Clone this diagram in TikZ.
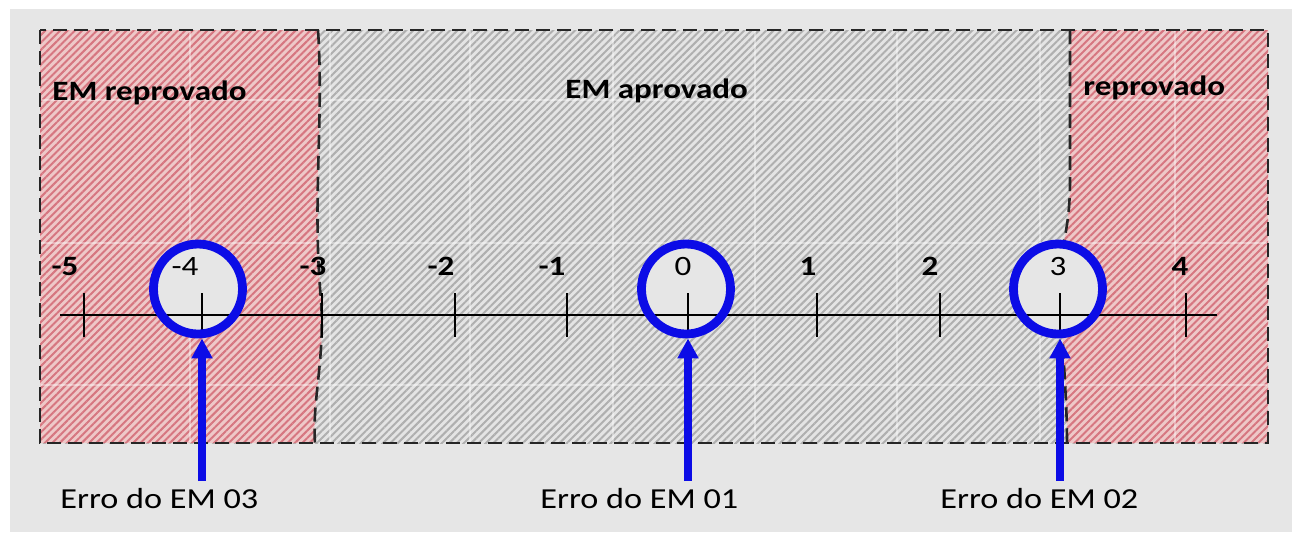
\documentclass[tikz,border=0pt]{standalone}
\usepackage{fontspec}
\setmainfont{Carlito}[FakeStretch=1.18]
\usepackage{tikz}
\usetikzlibrary{calc,positioning,arrows.meta,shapes.geometric,patterns.meta}
\definecolor{fundo}{RGB}{230,230,230}
\definecolor{reprov}{RGB}{238,200,200}
\definecolor{reprovline}{RGB}{214,118,128}
\definecolor{aprov}{RGB}{228,228,228}
\definecolor{aprovline}{RGB}{175,175,175}
\definecolor{marca}{RGB}{12,12,230}
\tikzset{
  zona/.style={draw=black!85, line width=1.3pt, dash pattern=on 7pt off 3.5pt},
  hachverm/.style={pattern={Lines[angle=45,distance=2.6pt,line width=1pt]},
                   pattern color=reprovline},
  hachcinza/.style={pattern={Lines[angle=45,distance=2.6pt,line width=1pt]},
                    pattern color=aprovline},
  grade/.style={white, opacity=0.4, line width=0.9pt},
  eixo/.style={black, line width=1pt},
  traco/.style={black, line width=0.8pt},
  zlabel/.style={font=\fontsize{14}{16}\selectfont\bfseries, inner sep=0pt},
  nbold/.style={font=\fontsize{14}{16}\selectfont\bfseries, inner sep=0pt},
  nfino/.style={font=\fontsize{14}{16}\selectfont, inner sep=0pt},
  erro/.style={font=\fontsize{14.5}{16}\selectfont, inner sep=0pt},
  anelbase/.style={ellipse, line width=4.4pt, minimum width=44.5pt,
                   minimum height=45pt, inner sep=0pt},
  anelfundo/.style={anelbase, fill=fundo},
  anel/.style={anelbase, draw=marca},
  seta/.style={-{Triangle[width=10pt,length=10pt]}, marca, line width=3.8pt},
}

\begin{document}
\begin{tikzpicture}[x=0.5pt,y=-0.5pt]
  \useasboundingbox (0,0) rectangle (1292,532);
  \fill[white] (0,0) rectangle (1292,532);
  \fill[fundo] (10,9) rectangle (1292,532);

  % --- faixas ---
  \fill[aprov] (40,30) rectangle (1268,443);
  \fill[hachcinza] (40,30) rectangle (1268,443);
  \def\faixaEsq{(40,30) -- (318,30) .. controls (324,120) and (312,200) .. (321,300)
    .. controls (325,360) and (312,400) .. (315,443) -- (40,443) -- cycle}
  \def\faixaDir{(1268,30) -- (1070,30) -- (1070,180) .. controls (1070,240) and (1058,240) .. (1061,300)
    .. controls (1063,360) and (1067,400) .. (1067,443) -- (1268,443) -- cycle}
  \fill[reprov] \faixaEsq;
  \fill[hachverm] \faixaEsq;
  \fill[reprov] \faixaDir;
  \fill[hachverm] \faixaDir;
  \foreach \gx in {190,330,470,613,755,897,1040,1175}{
    \draw[grade] (\gx,31) -- (\gx,442);
  }
  \foreach \gy in {100,243,385}{
    \draw[grade] (41,\gy) -- (1267,\gy);
  }
  \draw[zona] (40,30) rectangle (1268,443);
  \draw[zona] (318,30) .. controls (324,120) and (312,200) .. (321,300)
    .. controls (325,360) and (312,400) .. (315,443);
  \draw[zona] (1070,30) -- (1070,180) .. controls (1070,240) and (1058,240) .. (1061,300)
    .. controls (1063,360) and (1067,400) .. (1067,443);

  \node[zlabel, anchor=base west] (zEsq) at (52,100) {EM reprovado};
  \node[zlabel, anchor=base west] (zMeio) at (565,98) {EM aprovado};
  \node[zlabel, anchor=base west] (zDir) at (1083,95) {reprovado};

  % --- fundo dos aneis ---
  \node[anelfundo] (fA) at (198,289) {};
  \node[anelfundo] (fB) at (686,289) {};
  \node[anelfundo] (fC) at (1058,289) {};

  % --- reta numerica ---
  \coordinate (axL) at (60,315);
  \coordinate (axR) at (1217,315);
  \draw[eixo] (axL) -- (axR);
  \foreach \k/\n/\tx/\lx/\st in {0/-5/84/65/nbold,1/-4/202/185/nfino,2/-3/322/313/nbold,
      3/-2/455/441/nbold,4/-1/567/552/nbold,5/0/688/683/nfino,6/1/817/808/nbold,
      7/2/940/930/nbold,8/3/1060/1058/nfino,9/4/1186/1180/nbold}{
    \coordinate (t\k) at (\tx,315);
    \draw[traco] (\tx,293) -- (\tx,337);
    \node[\st, anchor=base] (n\k) at (\lx,275) {\n};
  }

  % --- erros marcados ---
  \node[anel] (anelA) at (fA) {};
  \node[anel] (anelB) at (fB) {};
  \node[anel] (anelC) at (fC) {};
  \coordinate (pA) at (202,481);
  \coordinate (pB) at (688,481);
  \coordinate (pC) at (1060,481);
  \draw[seta] (pA) -- (pA |- anelA.south);
  \draw[seta] (pB) -- (pB |- anelB.south);
  \draw[seta] (pC) -- (pC |- anelC.south);

  \node[erro, anchor=base west] (erroA) at (60,508) {Erro do EM 03};
  \node[erro, anchor=base west] (erroB) at (540,508) {Erro do EM 01};
  \node[erro, anchor=base west] (erroC) at (940,508) {Erro do EM 02};
\end{tikzpicture}
\end{document}
